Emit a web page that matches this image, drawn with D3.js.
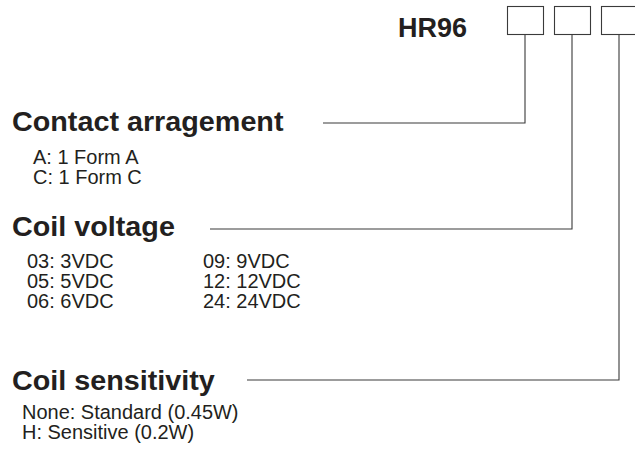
<!DOCTYPE html>
<html><head><meta charset="utf-8">
<script src="https://cdn.jsdelivr.net/npm/d3@7"></script>
<style>html,body{margin:0;padding:0;background:#fff;}</style>
</head><body>
<script>
const modelName = "HR96";
const headings = ["Contact arragement", "Coil voltage", "Coil sensitivity"];
const contactItems = ["A: 1 Form A", "C: 1 Form C"];
const voltageCol1 = ["03: 3VDC", "05: 5VDC", "06: 6VDC"];
const voltageCol2 = ["09: 9VDC", "12: 12VDC", "24: 24VDC"];
const sensitivityItems = ["None: Standard (0.45W)", "H: Sensitive (0.2W)"];

const W = 635, H = 454;
const svg = d3.select("body").append("svg").attr("width", W).attr("height", H);
const ink = "#231f20", lineCol = "#3a3a3a";
const font = "Liberation Sans, Arial, Helvetica, sans-serif";
const headScale = 1.065, itemScale = 1.02;

// code boxes
const boxX = d3.scaleLinear().domain([0, 2]).range([507, 601]);
const boxW = 36, boxTop = 6, boxBot = 34;
svg.append("text").attr("x", 398).attr("y", 37).text(modelName)
  .attr("font-family", font).attr("font-weight", "bold").attr("font-size", 27).attr("fill", ink);
svg.selectAll("rect.box").data(headings).join("rect").attr("class", "box")
  .attr("x", (d, i) => boxX(i) + 0.5).attr("y", boxTop + 0.5)
  .attr("width", boxW).attr("height", boxBot - boxTop)
  .attr("fill", "none").attr("stroke", lineCol).attr("stroke-width", 1.1);

// sections
const sections = [
  {title: headings[0], titleY: 131, lineY: 123, lineX0: 323, cols: [contactItems], colX: [33], itemY0: 164, step: 20},
  {title: headings[1], titleY: 236, lineY: 229, lineX0: 210, cols: [voltageCol1, voltageCol2], colX: [27, 203], itemY0: 268, step: 20},
  {title: headings[2], titleY: 390, lineY: 380, lineX0: 247, cols: [sensitivityItems], colX: [22], itemY0: 419, step: 20}
];

sections.forEach((s, i) => {
  svg.append("text").attr("transform", `translate(12,${s.titleY}) scale(${headScale},1)`).text(s.title)
    .attr("font-family", font).attr("font-weight", "bold").attr("font-size", 27).attr("fill", ink);
  const cx = boxX(i) + boxW / 2;
  svg.append("path")
    .attr("d", d3.line()([[s.lineX0, s.lineY], [cx, s.lineY], [cx, boxBot + 0.5]]))
    .attr("fill", "none").attr("stroke", lineCol).attr("stroke-width", 1.1);
  s.cols.forEach((col, ci) => {
    svg.selectAll(null).data(col).join("text")
      .attr("transform", (d, k) => `translate(${s.colX[ci]},${s.itemY0 + k * s.step}) scale(${itemScale},1)`)
      .text(d => d)
      .attr("font-family", font).attr("font-size", 19.6).attr("fill", ink);
  });
});
</script>
</body></html>
